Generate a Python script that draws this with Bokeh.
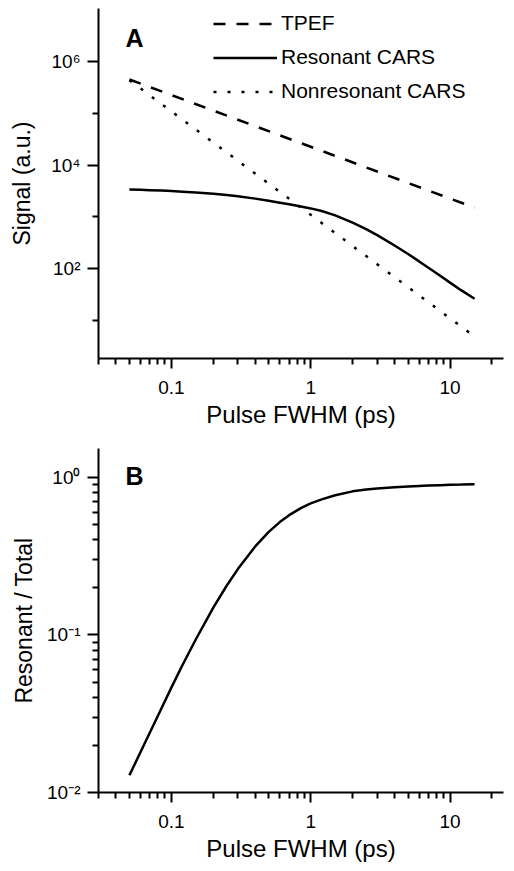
from bokeh.plotting import figure
from bokeh.layouts import column
from bokeh.models import (FixedTicker, CustomJSTickFormatter, Legend, LegendItem,
                          Label, ColumnDataSource)
from bokeh.embed import file_html
from bokeh.resources import INLINE

# ---- data ----
# straight power-law traces (panel A)
tau_lines = [0.05, 0.1, 0.3, 1, 3, 10, 15]
tpef = [4.5e5, 2.25e5, 7.5e4, 2.25e4, 7.5e3, 2.25e3, 1.5e3]
nonres_cars = [4.36e5, 1.09e5, 1.21e4, 1090, 121, 10.9, 4.84]

# curved traces (panel A resonant, panel B ratio)
tau = [0.05, 0.06, 0.07, 0.085, 0.1, 0.12, 0.15, 0.2, 0.25, 0.3, 0.4, 0.5,
       0.6, 0.7, 0.85, 1, 1.2, 1.5, 2, 2.5, 3, 4, 5, 6, 7, 8.5, 10, 12, 15]
res_cars = [3370, 3320, 3270, 3200, 3130, 3050, 2940, 2780, 2630, 2490, 2240,
            2030, 1871, 1740, 1580, 1450, 1294, 1064, 771, 574, 441, 278, 190,
            137, 103, 72.1, 53.3, 38.1, 26]
ratio = [0.01285, 0.01799, 0.02393, 0.0342, 0.04624, 0.06412, 0.09376,
         0.1486, 0.2056, 0.2612, 0.3639, 0.4498, 0.5188, 0.5741, 0.6368,
         0.6823, 0.7228, 0.7674, 0.8128, 0.8348, 0.8477, 0.8637, 0.8733,
         0.8798, 0.8844, 0.8896, 0.8938, 0.8978, 0.9028]

x_major = [0.1, 1, 10]
x_minor = [0.03, 0.04, 0.05, 0.06, 0.07, 0.08, 0.09,
           0.2, 0.3, 0.4, 0.5, 0.6, 0.7, 0.8, 0.9,
           2, 3, 4, 5, 6, 7, 8, 9, 20]
ya_major = [1e2, 1e4, 1e6]
ya_minor = [1e1, 1e3, 1e5]
yb_major = [1e-2, 1e-1, 1e0]
yb_minor = [0.02, 0.03, 0.04, 0.05, 0.06, 0.07, 0.08, 0.09,
            0.2, 0.3, 0.4, 0.5, 0.6, 0.7, 0.8, 0.9]

FONT = "Liberation Sans"
src_lines = ColumnDataSource(dict(tau=tau_lines, tpef=tpef, nr=nonres_cars))
src = ColumnDataSource(dict(tau=tau, res=res_cars, ratio=ratio))

xfmt = CustomJSTickFormatter(code="""
  return tick >= 1 ? tick.toFixed(0) : String(Math.round(tick*1000)/1000);
""")
yfmt = CustomJSTickFormatter(code="""
  const sup = {"-":"\u207B","0":"\u2070","1":"\u00B9","2":"\u00B2","3":"\u00B3",
               "4":"\u2074","5":"\u2075","6":"\u2076","7":"\u2077","8":"\u2078","9":"\u2079"};
  const e = Math.round(Math.log10(tick));
  return "10" + String(e).split("").map(c => sup[c]).join("");
""")


def style(p, ymaj, ymin, ylabel, ystand):
    p.outline_line_color = None
    p.xgrid.visible = False
    p.ygrid.visible = False
    p.xaxis.ticker = FixedTicker(ticks=x_major, minor_ticks=x_minor)
    p.yaxis.ticker = FixedTicker(ticks=ymaj, minor_ticks=ymin)
    p.xaxis.formatter = xfmt
    p.yaxis.formatter = yfmt
    p.xaxis.axis_label = "Pulse FWHM (ps)"
    p.yaxis.axis_label = ylabel
    for ax in (p.xaxis[0], p.yaxis[0]):
        ax.axis_line_width = 2
        ax.axis_line_color = "black"
        ax.major_tick_line_width = 2
        ax.minor_tick_line_width = 2
        ax.major_tick_line_color = "black"
        ax.minor_tick_line_color = "black"
        ax.major_tick_in = 0
        ax.minor_tick_in = 0
        ax.minor_tick_out = 6
        ax.major_label_text_font = FONT
        ax.major_label_text_font_size = "19px"
        ax.major_label_text_color = "black"
        ax.axis_label_text_font = FONT
        ax.axis_label_text_font_style = "normal"
        ax.axis_label_text_color = "black"
    p.xaxis.axis_label_text_font_size = "24px"
    p.yaxis.axis_label_text_font_size = "23px"
    p.xaxis.major_tick_out = 10
    p.xaxis.major_label_standoff = 12
    p.xaxis.axis_label_standoff = 4
    p.yaxis.major_tick_out = 11
    p.yaxis.major_label_standoff = 7
    p.yaxis.axis_label_standoff = ystand
    p.yaxis.major_label_orientation = "horizontal"


# ---- panel A ----
p1 = figure(width=506, height=436, x_axis_type="log", y_axis_type="log",
            x_range=(0.03, 24.2), y_range=(1.82, 1.06e7),
            output_backend="svg", toolbar_location=None,
            min_border_left=98, min_border_right=3, min_border_top=8,
            min_border_bottom=78)
style(p1, ya_major, ya_minor, "Signal (a.u.)", 13)

r_tpef = p1.line("tau", "tpef", source=src_lines, line_color="black",
                 line_width=2.5, line_dash="12 11")
r_res = p1.line("tau", "res", source=src, line_color="black", line_width=2.5)
r_nr = p1.line("tau", "nr", source=src_lines, line_color="black",
               line_width=2.5, line_dash="3 11")

legend = Legend(items=[LegendItem(label="TPEF", renderers=[r_tpef]),
                       LegendItem(label="Resonant CARS", renderers=[r_res]),
                       LegendItem(label="Nonresonant CARS", renderers=[r_nr])],
                location=(115, 255), padding=0, margin=0, spacing=10,
                glyph_width=64, glyph_height=23, label_height=23,
                label_standoff=4, border_line_color=None,
                background_fill_alpha=0,
                label_text_font=FONT, label_text_font_size="21px",
                label_text_color="black")
p1.add_layout(legend)

p1.add_layout(Label(x=27, y=321, x_units="screen", y_units="screen", text="A",
                    text_font=FONT, text_font_size="25px", text_font_style="bold",
                    text_baseline="alphabetic", text_color="black"))

# ---- panel B ----
p2 = figure(width=506, height=428, x_axis_type="log", y_axis_type="log",
            x_range=(0.03, 24.2), y_range=(0.01, 1.52),
            output_backend="svg", toolbar_location=None,
            min_border_left=98, min_border_right=3, min_border_top=12,
            min_border_bottom=67)
style(p2, yb_major, yb_minor, "Resonant / Total", 7)
p2.line("tau", "ratio", source=src, line_color="black", line_width=2.5)
p2.add_layout(Label(x=27, y=317, x_units="screen", y_units="screen", text="B",
                    text_font=FONT, text_font_size="25px", text_font_style="bold",
                    text_baseline="alphabetic", text_color="black"))

layout = column(p1, p2, spacing=0)
open("out.html", "w").write(file_html(layout, INLINE))
